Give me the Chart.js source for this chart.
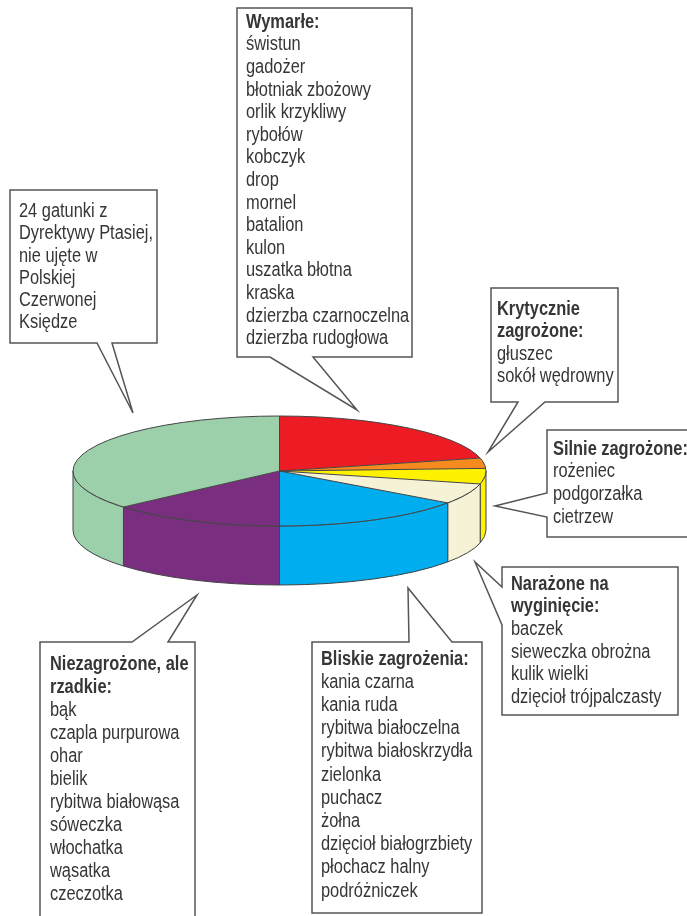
<!DOCTYPE html>
<html lang="pl">
<head>
<meta charset="utf-8">
<title>Ptaki - kategorie zagrożenia</title>
<script src="https://cdn.jsdelivr.net/npm/chart.js@4.4.1/dist/chart.umd.min.js"></script>
<style>
  html, body { margin: 0; padding: 0; background: #fff; }
  #wrap { position: relative; width: 687px; height: 916px; overflow: hidden; }
  #pie { position: absolute; left: 0; top: 0; }
  .note {
    position: absolute;
    font-family: "Liberation Sans", Arial, sans-serif;
    font-size: 20px;
    color: #363636;
    white-space: nowrap;
    transform: scaleX(0.82);   /* brak kroju wąskiego, ściskamy zwykły */
    transform-origin: 0 0;
  }
  .note b { font-weight: bold; }
</style>
</head>
<body>
<div id="wrap">
  <canvas id="pie" width="687" height="916"></canvas>
</div>
<script>
// kategorie i liczba gatunków
const categories = [
  "Wymarłe",
  "Krytycznie zagrożone",
  "Silnie zagrożone",
  "Narażone na wyginięcie",
  "Bliskie zagrożenia",
  "Niezagrożone, ale rzadkie",
  "Dyrektywa Ptasia, poza PCK"
];
const speciesCounts = [14, 2, 3, 4, 10, 9, 24];
const sliceColors = ["#ED1C24", "#F58A1F", "#FFF200", "#F6F2D6", "#00AEEF", "#7A2E80", "#9BD0AB"];

// opisy w dymkach
const wymarle = ["świstun", "gadożer", "błotniak zbożowy", "orlik krzykliwy", "rybołów", "kobczyk", "drop",
  "mornel", "batalion", "kulon", "uszatka błotna", "kraska", "dzierzba czarnoczelna", "dzierzba rudogłowa"];
const krytyczne = ["głuszec", "sokół wędrowny"];
const silne = ["rożeniec", "podgorzałka", "cietrzew"];
const narazone = ["baczek", "sieweczka obrożna", "kulik wielki", "dzięcioł trójpalczasty"];
const bliskie = ["kania czarna", "kania ruda", "rybitwa białoczelna", "rybitwa białoskrzydła", "zielonka",
  "puchacz", "żołna", "dzięcioł białogrzbiety", "płochacz halny", "podróżniczek"];
const rzadkie = ["bąk", "czapla purpurowa", "ohar", "bielik", "rybitwa białowąsa", "sóweczka",
  "włochatka", "wąsatka", "czeczotka"];
const dyrektywa = ["24 gatunki z", "Dyrektywy Ptasiej,", "nie ujęte w", "Polskiej", "Czerwonej", "Księdze"];

// dymki: ramka, dziobek, tekst
const notes = [
  { box: [237, 8, 412, 357], ptr: ["bottom", 270, 313, 357, 410], x: 246, base: 28, step: 22.6,
    head: ["Wymarłe:"], lines: wymarle },
  { box: [10, 190, 157, 343], ptr: ["bottom", 97, 112, 133, 413], x: 19, base: 217, step: 22.3,
    head: [], lines: dyrektywa },
  { box: [491, 288, 618, 402], ptr: ["bottom", 518, 545, 488, 452], x: 497, base: 315, step: 22.5,
    head: ["Krytycznie", "zagrożone:"], lines: krytyczne },
  { box: [547, 430, 700, 537], ptr: ["left", 493, 517, 495, 506], x: 553, base: 455, step: 22.7,
    head: ["Silnie zagrożone:"], lines: silne },
  { box: [502, 567, 678, 715], ptr: ["left", 587, 625, 475, 562], x: 511, base: 590, step: 22.6,
    head: ["Narażone na", "wyginięcie:"], lines: narazone },
  { box: [40, 642, 195, 930], ptr: ["top", 132, 168, 197, 595], x: 50, base: 670, step: 23,
    head: ["Niezagrożone, ale", "rzadkie:"], lines: rzadkie },
  { box: [312, 642, 482, 913], ptr: ["top", 409, 452, 408, 588], x: 321, base: 665, step: 23.2,
    head: ["Bliskie zagrożenia:"], lines: bliskie }
];

const CY = 471;      // środek górnej elipsy na ekranie
const RY = 55;       // pół-oś pionowa
const DEPTH = 59;    // grubość krążka
const EDGE = "#444";

function arcs(chart) {
  return chart.getDatasetMeta(0).data;
}

function drawNote(ctx, n) {
  const [x1, y1, x2, y2] = n.box;
  const [side, a, b, tx, ty] = n.ptr;
  ctx.beginPath();
  if (side === "top") {
    ctx.moveTo(x1, y1); ctx.lineTo(a, y1); ctx.lineTo(tx, ty); ctx.lineTo(b, y1);
    ctx.lineTo(x2, y1); ctx.lineTo(x2, y2); ctx.lineTo(x1, y2);
  } else if (side === "bottom") {
    ctx.moveTo(x1, y1); ctx.lineTo(x2, y1); ctx.lineTo(x2, y2); ctx.lineTo(b, y2);
    ctx.lineTo(tx, ty); ctx.lineTo(a, y2); ctx.lineTo(x1, y2);
  } else {
    ctx.moveTo(x1, y1); ctx.lineTo(x2, y1); ctx.lineTo(x2, y2); ctx.lineTo(x1, y2);
    ctx.lineTo(x1, b); ctx.lineTo(tx, ty); ctx.lineTo(x1, a);
  }
  ctx.closePath();
  ctx.fillStyle = "#fff";
  ctx.fill();
  ctx.lineWidth = 1.5;
  ctx.strokeStyle = "#555";
  ctx.stroke();
}

const pie3d = {
  id: "pie3d",
  beforeDatasetsDraw(chart) {
    const ctx = chart.ctx;
    const els = arcs(chart);
    const cx = els[0].x, r = els[0].outerRadius;
    // ściany boczne (przód krążka)
    ctx.save();
    ctx.lineWidth = 1;
    ctx.strokeStyle = EDGE;
    els.forEach((el, i) => {
      const a = Math.max(el.startAngle, 0);
      const b = Math.min(el.endAngle, Math.PI);
      if (a >= b) return;
      ctx.beginPath();
      ctx.ellipse(cx, CY, r, RY, 0, a, b);
      ctx.lineTo(cx + r * Math.cos(b), CY + DEPTH + RY * Math.sin(b));
      ctx.ellipse(cx, CY + DEPTH, r, RY, 0, b, a, true);
      ctx.closePath();
      ctx.fillStyle = sliceColors[i];
      ctx.fill();
      ctx.stroke();
    });
    ctx.restore();
    // spłaszczenie wierzchu
    const k = RY / r;
    ctx.save();
    ctx.translate(0, CY);
    ctx.scale(1, k);
    ctx.translate(0, -els[0].y);
  },
  afterDatasetsDraw(chart) {
    const ctx = chart.ctx;
    ctx.restore();
    const els = arcs(chart);
    const cx = els[0].x, r = els[0].outerRadius;
    ctx.save();
    ctx.lineWidth = 1;
    ctx.strokeStyle = EDGE;
    ctx.beginPath();
    ctx.ellipse(cx, CY, r, RY, 0, 0, Math.PI * 2);
    els.forEach((el) => {
      ctx.moveTo(cx, CY);
      ctx.lineTo(cx + r * Math.cos(el.startAngle), CY + RY * Math.sin(el.startAngle));
    });
    ctx.stroke();
    ctx.restore();
  },
  afterDraw(chart) {
    const ctx = chart.ctx;
    ctx.save();
    notes.forEach((n) => drawNote(ctx, n));
    ctx.restore();
  }
};

new Chart(document.getElementById("pie"), {
  type: "pie",
  data: {
    labels: categories,
    datasets: [{
      data: speciesCounts,
      backgroundColor: sliceColors,
      borderWidth: 0
    }]
  },
  options: {
    responsive: false,
    animation: false,
    layout: { padding: { left: 73, right: 201, top: 50, bottom: 453 } },
    plugins: { legend: { display: false }, tooltip: { enabled: false } },
    events: []
  },
  plugins: [pie3d]
});

// teksty w dymkach
const wrap = document.getElementById("wrap");
notes.forEach((n) => {
  const d = document.createElement("div");
  d.className = "note";
  d.style.left = n.x + "px";
  d.style.top = (n.base - 18.3 - (n.step - 22.8) / 2) + "px";
  d.style.lineHeight = n.step + "px";
  const rows = n.head.map((t) => "<b>" + t + "</b>").concat(n.lines);
  d.innerHTML = rows.join("<br>");
  wrap.appendChild(d);
});
</script>
</body>
</html>
